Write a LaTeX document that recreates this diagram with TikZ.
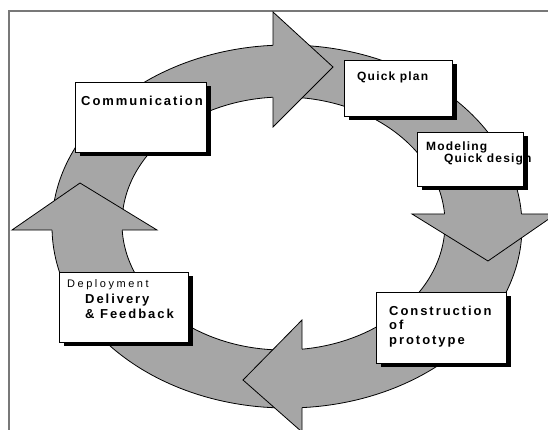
\documentclass[tikz,border=0pt]{standalone}
\usepackage{fontspec}
\setmainfont{Liberation Sans}
\newfontfamily\fwide[LetterSpace=15]{Liberation Sans}
\newfontfamily\fmid[LetterSpace=10]{Liberation Sans}
\newfontfamily\fdep[LetterSpace=23]{Liberation Sans}
\usetikzlibrary{shadows}
\definecolor{bandgray}{RGB}{166,166,166}
\definecolor{framegray}{RGB}{120,120,120}
\tikzset{
  frameline/.style={draw=framegray, line width=1.3pt},
  bandfill/.style={fill=bandgray, even odd rule},
  bandline/.style={draw=black, line width=0.8pt},
  headfill/.style={fill=bandgray},
  headline/.style={draw=black, line width=0.8pt, line join=miter},
  box/.style={draw=black, line width=0.8pt, fill=white, inner sep=0pt,
    general shadow={fill=black, shadow xshift=5pt, shadow yshift=-4pt}},
  txt/.style={inner sep=0pt, anchor=base west, text=black},
  big/.style={txt, font=\fontsize{13}{15}\fwide\bfseries},
  mid/.style={txt, font=\fontsize{12}{14}\fmid\bfseries},
  small/.style={txt, font=\fontsize{11}{13}\fdep},
}
\begin{document}
\begin{tikzpicture}[x=1pt,y=-1pt]
\useasboundingbox (0,0) rectangle (548,430);
\begin{scope}
\clip (0,0) rectangle (548,430);
% frame
\draw[frameline] (9,431) -- (9,11) -- (549,11);
% ring
\fill[bandfill] (287,226.5) ellipse [x radius=235pt, y radius=181.5pt]
                (283.5,223.5) ellipse [x radius=161.5pt, y radius=126.5pt];
\draw[bandline] (287,226.5) ellipse [x radius=235pt, y radius=181.5pt];
\draw[bandline] (283.5,223.5) ellipse [x radius=161.5pt, y radius=126.5pt];
% top head
\coordinate (ta) at (273,12);
\coordinate (tt) at (333,67);
\coordinate (tb) at (273,127);
\fill[headfill] (ta) -- (tt) -- (tb) -- cycle;
\draw[headline] (273,45.3) -- (ta) -- (tt) -- (tb) -- (273,97.3);
% right head
\coordinate (ra) at (412,214);
\coordinate (rt) at (488,261);
\coordinate (rb) at (556,214);
\fill[headfill] (ra) -- (rt) -- (rb) -- cycle;
\draw[headline] (444.5,214) -- (ra) -- (rt) -- (rb) -- (521.4,214);
% bottom head
\coordinate (ba) at (302,320);
\coordinate (bt) at (243,380);
\coordinate (bb) at (302,432);
\fill[headfill] (ba) -- (bt) -- (bb) -- cycle;
\draw[headline] (302,349.2) -- (ba) -- (bt) -- (bb) -- (302,407.6);
% left head
\coordinate (la) at (12,230);
\coordinate (lt) at (80,183);
\coordinate (lb) at (157,230);
\fill[headfill] (la) -- (lt) -- (lb) -- cycle;
\draw[headline] (52,230) -- (la) -- (lt) -- (lb) -- (122.2,230);
\end{scope}
% boxes
\node[box, minimum width=131pt, minimum height=70pt] (comm) at (140.5,117) {};
\node[box, minimum width=108pt, minimum height=56pt] (qplan) at (398,88) {};
\node[box, minimum width=106pt, minimum height=54pt] (model) at (470,159) {};
\node[box, minimum width=130pt, minimum height=71pt] (constr) at (441,327.5) {};
\node[box, minimum width=129pt, minimum height=70pt] (deploy) at (123.5,307) {};
% texts
\node[big] (tcomm) at (81,106) {Communication};
\node[mid] (tqplan) at (357,80.5) {Quick plan};
\node[mid] (tmodel) at (426,150.5) {Modeling};
\node[mid] (tqdes) at (444,162.5) {Quick design};
\node[small] (tdep) at (67,287) {Deployment};
\node[big] (tdel) at (85,303.5) {Delivery};
\node[big] (tfeed) at (85,318.5) {\& Feedback};
\node[big] (tcon) at (389,315.7) {Construction};
\node[big] (tof) at (389,329.5) {of};
\node[big] (tproto) at (389,344) {prototype};
\end{tikzpicture}
\end{document}
